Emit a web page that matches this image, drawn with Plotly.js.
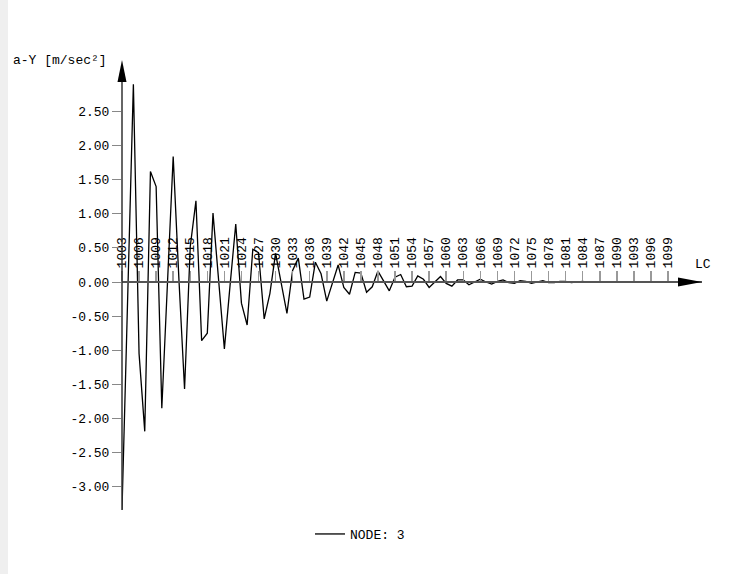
<!DOCTYPE html>
<html>
<head>
<meta charset="utf-8">
<script src="https://cdn.plot.ly/plotly-3.0.1.min.js"></script>
<style>
  html, body { margin: 0; padding: 0; background: #fff; }
  #chart { width: 730px; height: 574px; }
  #strip { position: absolute; left: 0; top: 0; width: 8px; height: 574px; background: #efefef; }
</style>
</head>
<body>
<div id="chart"></div>
<div id="strip"></div>
<script>
// Load cases (LC) and acceleration a-Y [m/sec²] at NODE 3
const loadCases = [];
for (let lc = 1003; lc <= 1101; lc++) loadCases.push(lc);

const accelY = [
  -3.34, -0.15, 2.90, -1.05, -2.19, 1.62, 1.40, -1.85, 0.00, 1.84,
   0.05, -1.57, 0.52, 1.19, -0.86, -0.75, 1.01, 0.00, -0.98, -0.05,
   0.85, -0.31, -0.63, 0.48, 0.43, -0.54, -0.17, 0.42, -0.05, -0.46,
   0.17, 0.35, -0.25, -0.22, 0.29, 0.12, -0.28, 0.00, 0.25, -0.08,
  -0.18, 0.14, 0.13, -0.15, -0.07, 0.16, 0.01, -0.13, 0.07, 0.11,
  -0.07, -0.06, 0.09, 0.04, -0.08, 0.00, 0.08, -0.02, -0.06, 0.03,
   0.03, -0.04, 0.00, 0.04, 0.00, -0.03, 0.01, 0.03, -0.01, -0.02,
   0.02, 0.01, -0.02, 0.00, 0.02, -0.01, -0.01, 0.01, 0.01, -0.01,
   0.00, 0.01, -0.005, 0.00, 0.005, 0.00, -0.005, 0.00, 0.005, 0.00,
   0.00, 0.00, 0.00, 0.00, 0.00, 0.00, 0.00, 0.00, 0.00
];

const xTickVals = [];
for (let lc = 1003; lc <= 1099; lc += 3) xTickVals.push(lc);
const xTickText = xTickVals.map(String);

const yTickVals = [2.5, 2.0, 1.5, 1.0, 0.5, 0.0, -0.5, -1.0, -1.5, -2.0, -2.5, -3.0];
const yTickText = yTickVals.map(v => v.toFixed(2));

const seriesName = 'NODE: 3';
const yTitle = 'a-Y [m/sec²]';
const xTitle = 'LC';

// geometry
const W = 730, H = 574;
const mL = 122, mR = 28, mT = 60, mB = 54;
const plotW = W - mL - mR, plotH = H - mT - mB;
const pxPerLC = 5.6875;
const pxPerUnit = 68.2;
const xMin = 1003, xMax = xMin + plotW / pxPerLC;
const yTop = 222 / pxPerUnit;          // zero line is 222px below top of plot
const yBot = yTop - plotH / pxPerUnit;
const zeroPos = (0 - yBot) / (yTop - yBot);

// helpers: pixel offsets -> paper fractions
const px = d => d / plotW;
const py = d => d / plotH;

const font = 'Liberation Mono, DejaVu Sans Mono, monospace';

const trace = {
  x: loadCases,
  y: accelY,
  type: 'scatter',
  mode: 'lines',
  name: seriesName,
  line: { color: '#000', width: 1.3 },
  cliponaxis: false
};

const aHW = 4.5; // arrow half width, px
const layout = {
  width: W, height: H,
  margin: { l: mL, r: mR, t: mT, b: mB, pad: 0 },
  paper_bgcolor: '#fff',
  plot_bgcolor: 'rgba(0,0,0,0)',
  showlegend: true,
  legend: {
    orientation: 'h',
    x: (310 - mL) / plotW, xanchor: 'left',
    y: (mT + plotH - 534) / plotH, yanchor: 'middle',
    font: { family: font, size: 13, color: '#000' },
    bgcolor: 'rgba(0,0,0,0)'
  },
  title: {
    text: yTitle,
    x: 13 / W, xref: 'container', xanchor: 'left',
    y: 1 - 59 / H, yref: 'container', yanchor: 'middle',
    font: { family: font, size: 13, color: '#000' }
  },
  xaxis: {
    range: [xMin, xMax],
    anchor: 'free',
    position: zeroPos,
    side: 'top',
    showgrid: false,
    zeroline: false,
    showline: true,
    linecolor: '#555',
    linewidth: 2,
    ticks: 'outside',
    ticklen: 10,
    tickwidth: 1.5,
    tickcolor: '#999',
    tickvals: xTickVals,
    ticktext: xTickText,
    tickangle: -90,
    tickfont: { family: font, size: 13, color: '#000' }
  },
  yaxis: {
    range: [yBot, yTop],
    showgrid: false,
    zeroline: false,
    showline: false,
    ticks: 'outside',
    ticklen: 9,
    tickwidth: 1,
    tickcolor: '#888',
    tickvals: yTickVals,
    ticktext: yTickText,
    tickfont: { family: font, size: 13, color: '#000' }
  },
  shapes: [
    // y axis line
    { type: 'line', xref: 'paper', yref: 'paper', x0: 0, x1: 0,
      y0: py(10), y1: 1 - py(22),
      line: { color: '#333', width: 1.5 } },
    // y axis arrow head
    { type: 'path', xref: 'paper', yref: 'paper',
      path: `M ${-px(aHW)},${1 - py(22)} L ${px(aHW)},${1 - py(22)} L 0,1 Z`,
      fillcolor: '#000', line: { width: 0 } },
    // x axis arrow head
    { type: 'path', xref: 'paper', yref: 'paper',
      path: `M ${1 - px(24)},${zeroPos - py(aHW)} L ${1 - px(24)},${zeroPos + py(aHW)} L 1,${zeroPos} Z`,
      fillcolor: '#000', line: { width: 0 } }
  ],
  annotations: [
    { text: xTitle, xref: 'paper', yref: 'paper', x: 1 + px(1), y: zeroPos + py(18),
      showarrow: false, xanchor: 'center', yanchor: 'middle',
      font: { family: font, size: 13, color: '#000' } }
  ]
};

Plotly.newPlot('chart', [trace], layout, { displayModeBar: false, staticPlot: true });
</script>
</body>
</html>
